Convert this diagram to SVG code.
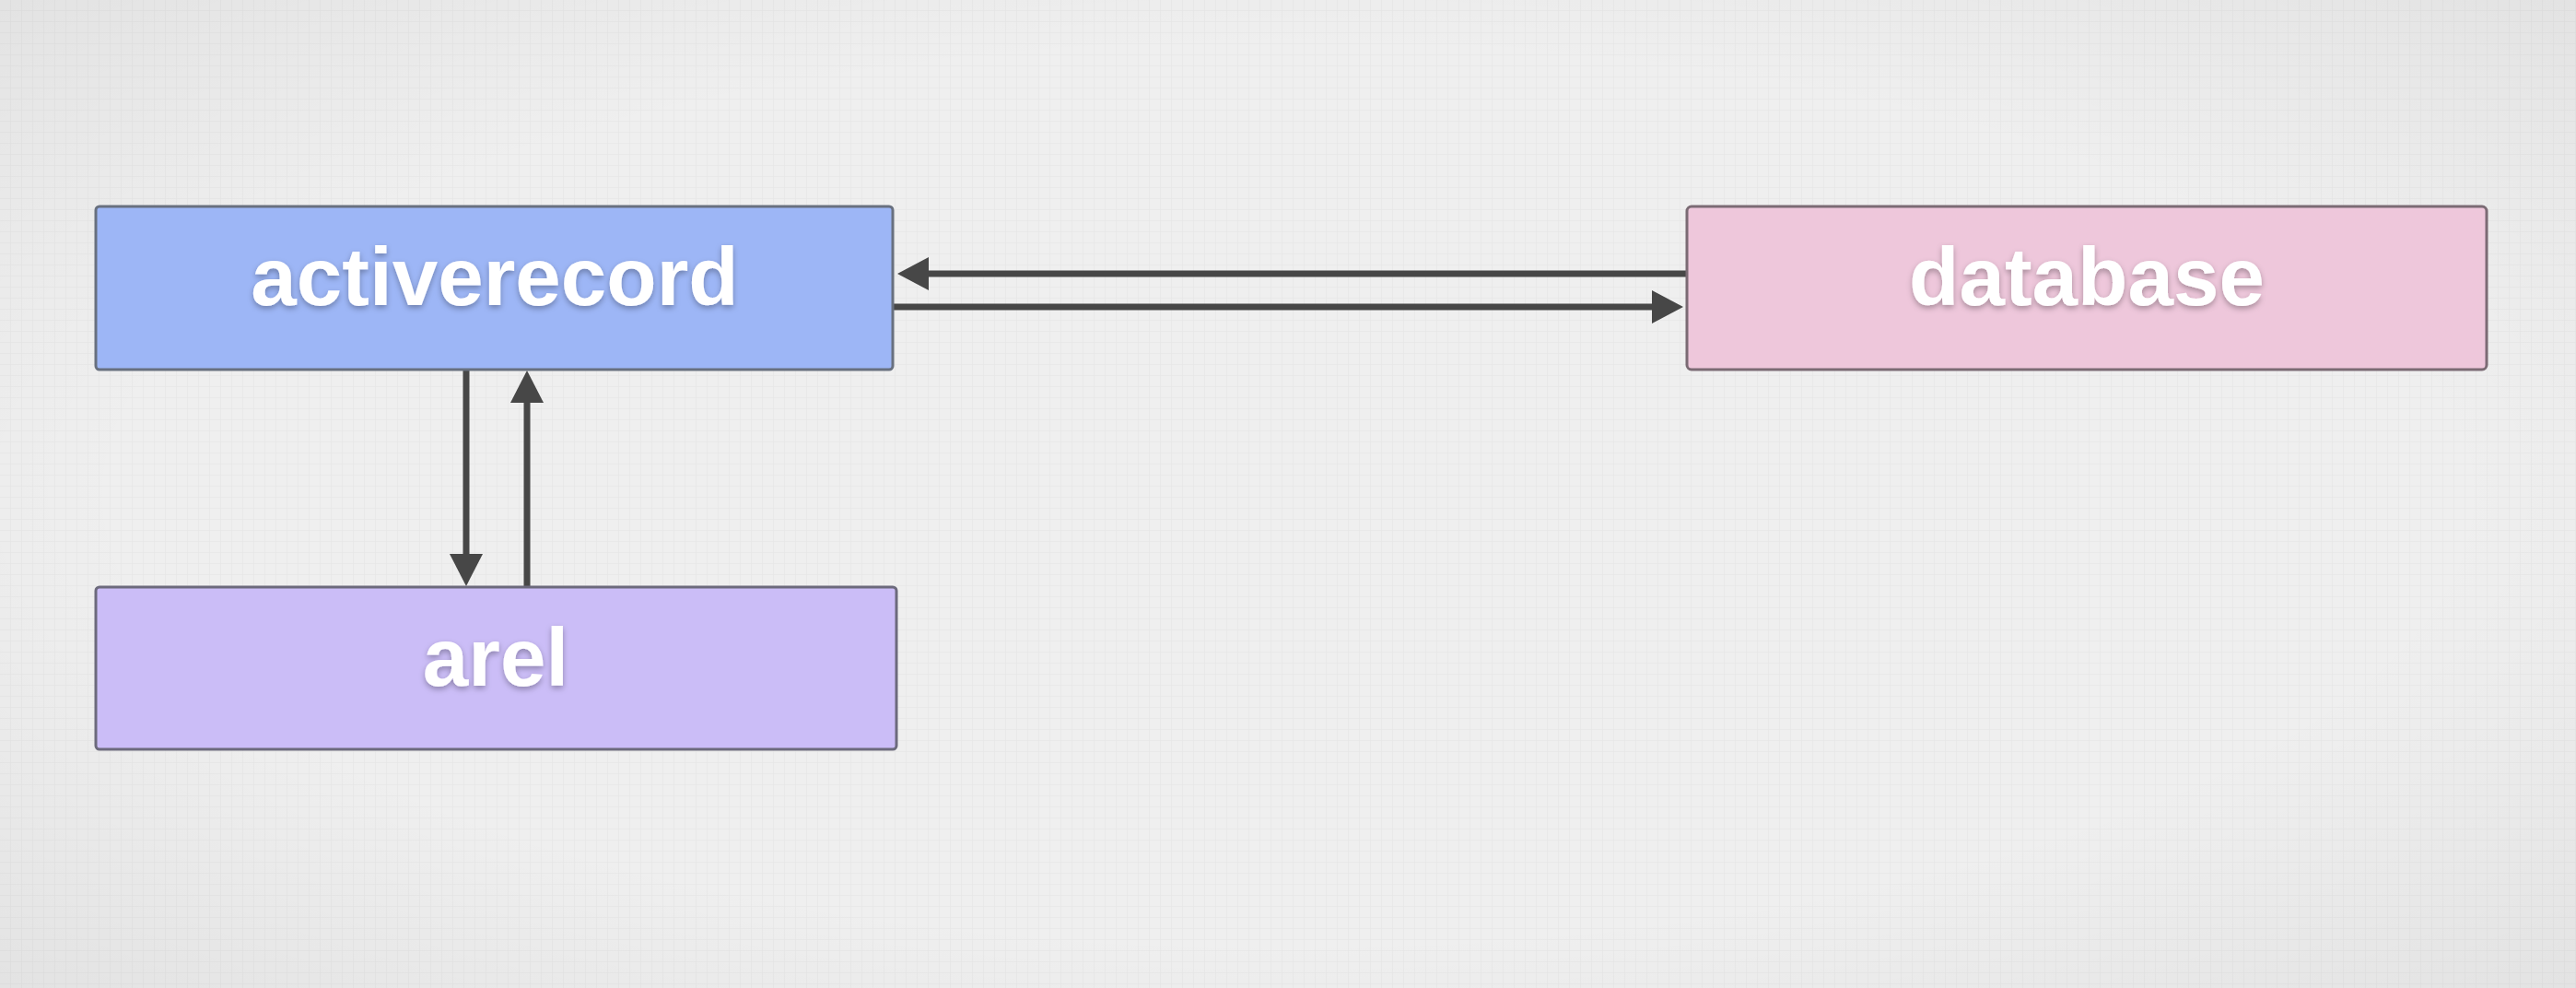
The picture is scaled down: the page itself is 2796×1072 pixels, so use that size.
<svg xmlns="http://www.w3.org/2000/svg" width="2796" height="1072" viewBox="0 0 2796 1072">
<style>
.box{stroke-width:3}
.lbl{font-family:"Liberation Sans",Arial,sans-serif;font-weight:bold;font-size:89px;fill:#ffffff;text-anchor:middle;filter:url(#sh)}
.conn{stroke:#474747;stroke-width:7;fill:none}
.head{fill:#474747}
</style>
<defs>
<pattern id="grid" width="12" height="12" patternUnits="userSpaceOnUse">
<path d="M12 0V12M0 12H12" stroke="#e7e7e7" stroke-width="1.5" fill="none"/>
</pattern>
<radialGradient id="vig" cx="0.5" cy="0.5" r="0.75">
<stop offset="0.6" stop-color="#000" stop-opacity="0"/>
<stop offset="1" stop-color="#000" stop-opacity="0.06"/>
</radialGradient>
<filter id="sh" x="-10%" y="-30%" width="120%" height="160%">
<feDropShadow dx="0" dy="3" stdDeviation="3" flood-color="#000" flood-opacity="0.3"/>
</filter>
</defs>
<rect width="2796" height="1072" fill="#efefef"/>
<rect width="2796" height="1072" fill="url(#grid)"/>
<rect width="2796" height="1072" fill="url(#vig)"/>
<g id="connectors">
<line class="conn" x1="1831" y1="297" x2="1000" y2="297"/>
<polygon class="head" points="974,297 1008,279 1008,315"/>
<line class="conn" x1="969" y1="333" x2="1800" y2="333"/>
<polygon class="head" points="1827,333 1793,315 1793,351"/>
<line class="conn" x1="506" y1="402" x2="506" y2="608"/>
<polygon class="head" points="506,636 488,601 524,601"/>
<line class="conn" x1="572" y1="637" x2="572" y2="430"/>
<polygon class="head" points="572,402 554,437 590,437"/>
</g>
<g id="activerecord">
<rect class="box" x="104" y="224" width="865" height="177" rx="4" fill="#9db6f6" stroke="#68707f"/>
<text class="lbl" x="537" y="331">activerecord</text>
</g>
<g id="database">
<rect class="box" x="1831" y="224" width="868" height="177" rx="5" fill="#eec7db" stroke="#7b6b74"/>
<text class="lbl" x="2265" y="331">database</text>
</g>
<g id="arel">
<rect class="box" x="104" y="637" width="869" height="176" rx="4" fill="#cbbdf7" stroke="#6c6a7c"/>
<text class="lbl" x="538" y="744">arel</text>
</g>
</svg>
